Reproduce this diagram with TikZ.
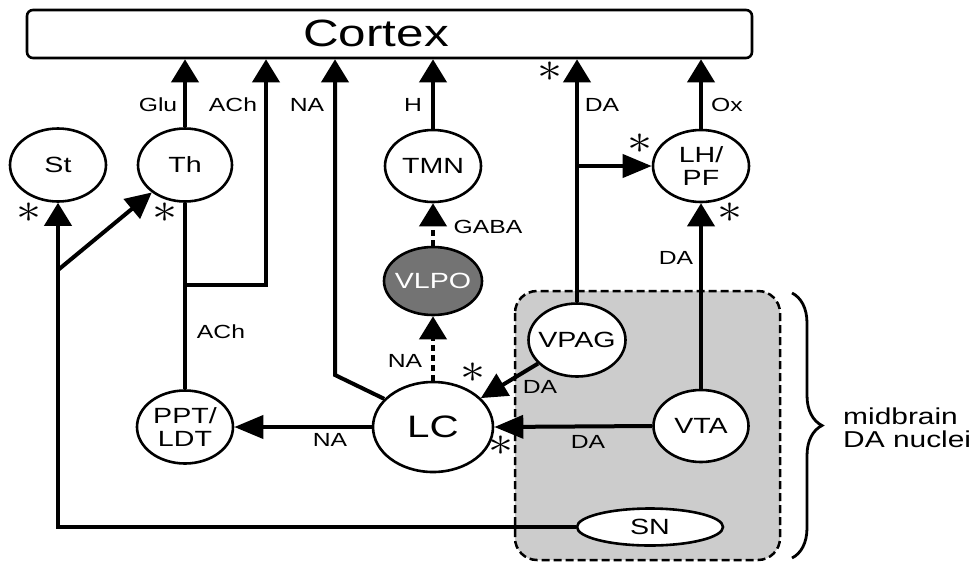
\documentclass[tikz,border=0pt]{standalone}
\usepackage{fontspec}
\setmainfont{Liberation Sans}[FakeStretch=1.3]
\usetikzlibrary{arrows.meta}
\usetikzlibrary{shapes.geometric}
\usetikzlibrary{decorations.pathreplacing}
\definecolor{vlpogray}{gray}{0.45}
\definecolor{dagray}{gray}{0.8}

\begin{document}
\begin{tikzpicture}[x=1pt,y=-1pt,
    nucleus/.style={draw, ellipse, line width=2.6pt, fill=white, inner xsep=-30pt, inner ysep=0pt,
        minimum width=96pt, minimum height=73pt, align=center, font=\fontsize{22}{23}\selectfont},
    conn/.style={line width=4pt, -{Triangle[length=23pt,width=27pt]}},
    hconn/.style={line width=4pt, -{Triangle[length=29pt,width=23pt]}},
    dconn/.style={line width=4pt, -{Triangle[length=26pt,width=25pt]}},
    wire/.style={line width=4pt},
    dashconn/.style={conn, dash pattern=on 6pt off 4pt},
    tag/.style={font=\fontsize{19}{19}\selectfont, inner sep=0pt},
    starmark/.style={inner sep=0pt, font=\fontsize{10}{10}\selectfont, xscale=5, yscale=4.2}]
    \useasboundingbox (0,0) rectangle (979,563);

    % Midbrain DA nuclei box
    \draw[fill=dagray, line width=2.5pt, dash pattern=on 8pt off 4pt, rounded corners=22pt] (515,291) rectangle (780,560);
    \draw[line width=2.8pt, decorate, decoration={brace, amplitude=30pt}] (792,293) -- (792,558);
    \node[anchor=west, align=left, inner sep=0pt, font=\fontsize{23}{23}\selectfont] (dalabel) at (843,428) {midbrain\\DA nuclei};

    % Cortex
    \node[draw, line width=2.6pt, rounded corners=6pt, minimum width=725pt, minimum height=48pt, inner sep=0pt] (Cortex) at (389.5,34) {};
    \node[inner sep=0pt, font=\fontsize{38}{38}\selectfont] (cortextext) at (376,33) {Cortex};

    % Nuclei
    \node[nucleus] (St) at (58,165) {St};
    \node[nucleus, minimum width=94pt] (Th) at (185,165) {Th};
    \node[nucleus, minimum height=72pt] (TMN) at (433,166) {TMN};
    \node[nucleus, minimum height=72pt] (LHPF) at (701,166) {LH/\\PF};
    \node[nucleus, minimum width=98pt, minimum height=68pt, fill=vlpogray, text=white] (VLPO) at (433,281) {VLPO};
    \node[nucleus, minimum width=120pt, minimum height=90pt, font=\fontsize{31}{31}\selectfont] (LC) at (433,427) {LC};
    \node[nucleus] (PPT) at (185,427) {PPT/\\LDT};
    \node[nucleus, minimum width=97pt] (VPAG) at (577,340) {VPAG};
    \node[nucleus, minimum width=95pt, minimum height=72pt] (VTA) at (701,426) {VTA};
    \node[nucleus, minimum width=146pt, minimum height=37pt] (SN) at (650,527) {SN};

    % Projections to cortex
    \coordinate (achbend) at (266,285);
    \coordinate (nabend) at (335,375);
    \draw[conn] (Th.north) -- (Th.north |- Cortex.south);
    \draw[wire] (Th.south) -- (PPT.north);
    \draw[conn] (Th.south |- achbend) -- (achbend) -- (achbend |- Cortex.south);
    \draw[conn] (LC.150) -- (nabend) -- (nabend |- Cortex.south);
    \draw[conn] (TMN.north) -- (TMN.north |- Cortex.south);
    \draw[conn] (VPAG.north) -- (VPAG.north |- Cortex.south);
    \draw[conn] (LHPF.north) -- (LHPF.north |- Cortex.south);

    % Brainstem and midbrain connections
    \coordinate (snbend) at (SN.west -| St.south);
    \coordinate (stbranch) at (58,270);
    \draw[conn] (SN.west) -- (snbend) -- (St.south);
    \draw[dconn] (stbranch) -- (Th);
    \draw[dashconn] (VLPO.north) -- (TMN.south);
    \draw[dashconn] (LC.north) -- (VLPO.south);
    \draw[hconn] (LC.west) -- (PPT.east);
    \draw[hconn] (VPAG.north |- LHPF.west) -- (LHPF.west);
    \draw[dconn] (VPAG) -- (LC);
    \draw[hconn] (VTA.west) -- (LC.east);
    \draw[conn] (VTA.north) -- (LHPF.south);

    % Transmitter labels
    \node[tag] (glu) at (158,105) {Glu};
    \node[tag] (achtop) at (233,105) {ACh};
    \node[tag] (natop) at (307,105) {NA};
    \node[tag] (htop) at (413,105) {H};
    \node[tag] (datop) at (602,105) {DA};
    \node[tag] (ox) at (727,105) {Ox};
    \node[tag] (dalh) at (676,258) {DA};
    \node[tag] (gaba) at (488,227) {GABA};
    \node[tag] (achppt) at (221,332) {ACh};
    \node[tag] (navlpo) at (405,361) {NA};
    \node[tag] (nappt) at (330,440) {NA};
    \node[tag] (davpag) at (540,387) {DA};
    \node[tag] (davta) at (588,442) {DA};

    % Asterisks
    \foreach \sx/\sy [count=\i] in {29/213, 165/213, 550/72, 640/144, 730/213, 473/373, 501/446}
        \node[starmark] (star\i) at (\sx,\sy) {$\ast$};
\end{tikzpicture}
\end{document}
